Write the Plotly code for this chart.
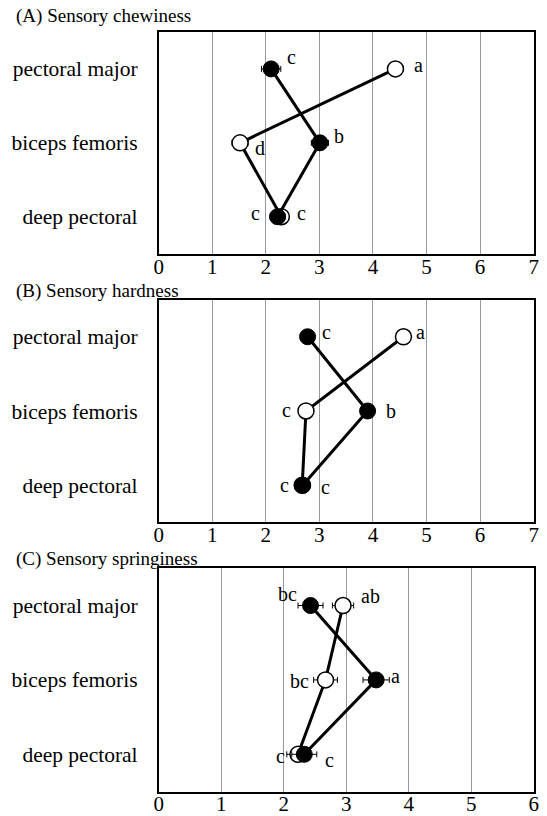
import plotly.graph_objects as go

categories = ["pectoral major", "biceps femoris", "deep pectoral"]

titles = ["(A) Sensory chewiness", "(B) Sensory hardness", "(C) Sensory springiness"]
x_max = [7, 7, 6]

# filled (black) series
filled_vals = [[2.10, 3.01, 2.22], [2.78, 3.90, 2.69], [2.43, 3.48, 2.33]]
filled_err = [[0.18, 0.16, 0.14], [0.08, 0.10, 0.06], [0.20, 0.21, 0.20]]
filled_letters = [["c", "b", "c"], ["c", "b", "c"], ["bc", "a", "c"]]

# open (white) series
open_vals = [[4.42, 1.52, 2.29], [4.57, 2.75, 2.68], [2.95, 2.67, 2.23]]
open_err = [[0.14, 0.15, 0.14], [0.06, 0.06, 0.06], [0.17, 0.19, 0.18]]
open_letters = [["a", "d", "c"], ["a", "c", "c"], ["ab", "bc", "c"]]

# label pixel offsets (dx, dy) per panel / point
filled_off = [[(20, -12), (19, -7), (-22, -4)],
              [(19, -5), (23, 0), (-18, 0)],
              [(-23, -12), (19, -4), (25, 6)]]
open_off = [[(23, -4), (20, 5), (20, -4)],
            [(17, -5), (-19, -1), (23, 2)],
            [(27, -10), (-26, 1), (-18, 2)]]

W, H = 547, 816
FONT = "Liberation Serif"
panel_px = [(32, 254), (300, 523), (569, 792.5)]
title_y = [16, 291, 560]
x_px = (156.5, 538.5)

fig = go.Figure()
for i in range(3):
    xa = "x" if i == 0 else f"x{i+1}"
    ya = "y" if i == 0 else f"y{i+1}"
    # open series first (below)
    fig.add_trace(go.Scatter(
        x=open_vals[i], y=categories, xaxis=xa, yaxis=ya, mode="lines+markers",
        line=dict(color="black", width=3),
        marker=dict(size=16, color="white", line=dict(color="black", width=1.5)),
        error_x=dict(type="data", array=open_err[i], color="black", thickness=1, width=3),
        showlegend=False, hoverinfo="skip"))
    fig.add_trace(go.Scatter(
        x=filled_vals[i], y=categories, xaxis=xa, yaxis=ya, mode="lines+markers",
        line=dict(color="black", width=3),
        marker=dict(size=16, color="black", line=dict(color="black", width=1)),
        error_x=dict(type="data", array=filled_err[i], color="black", thickness=1, width=3),
        showlegend=False, hoverinfo="skip"))
    for vals, letters, offs in ((filled_vals[i], filled_letters[i], filled_off[i]),
                                (open_vals[i], open_letters[i], open_off[i])):
        for v, c, t, (dx, dy) in zip(vals, categories, letters, offs):
            fig.add_annotation(x=v, y=c, xref=xa, yref=ya, text=t, showarrow=False,
                               xshift=dx, yshift=-dy,
                               font=dict(family=FONT, size=20, color="black"))
    top, bot = panel_px[i]
    dom_y = [1 - bot / H, 1 - top / H]
    axkey = "xaxis" if i == 0 else f"xaxis{i+1}"
    aykey = "yaxis" if i == 0 else f"yaxis{i+1}"
    fig.update_layout(**{
        axkey: dict(domain=[x_px[0] / W, x_px[1] / W], anchor=ya, range=[0, x_max[i]],
                    dtick=1, showgrid=True, gridcolor="#999999", gridwidth=1,
                    showline=True, linecolor="black", linewidth=1.5, mirror=True,
                    ticks="", zeroline=False, ticklabelstandoff=-7,
                    tickfont=dict(family=FONT, size=21, color="black")),
        aykey: dict(domain=dom_y, anchor=xa, range=[2.5, -0.5], type="category",
                    categoryorder="array", categoryarray=categories,
                    showgrid=False, showline=True, linecolor="black", linewidth=1.5,
                    mirror=True, ticks="", zeroline=False, ticklabelstandoff=15,
                    tickfont=dict(family=FONT, size=21.5, color="black")),
    })
    fig.add_annotation(x=9 / W, y=1 - title_y[i] / H, xref="paper", yref="paper",
                       text=titles[i], showarrow=False, xanchor="left", yanchor="middle",
                       font=dict(family=FONT, size=19, color="black"))

fig.update_layout(width=W, height=H, margin=dict(l=0, r=0, t=0, b=0),
                  plot_bgcolor="white", paper_bgcolor="white")
fig.write_html("out.html")
